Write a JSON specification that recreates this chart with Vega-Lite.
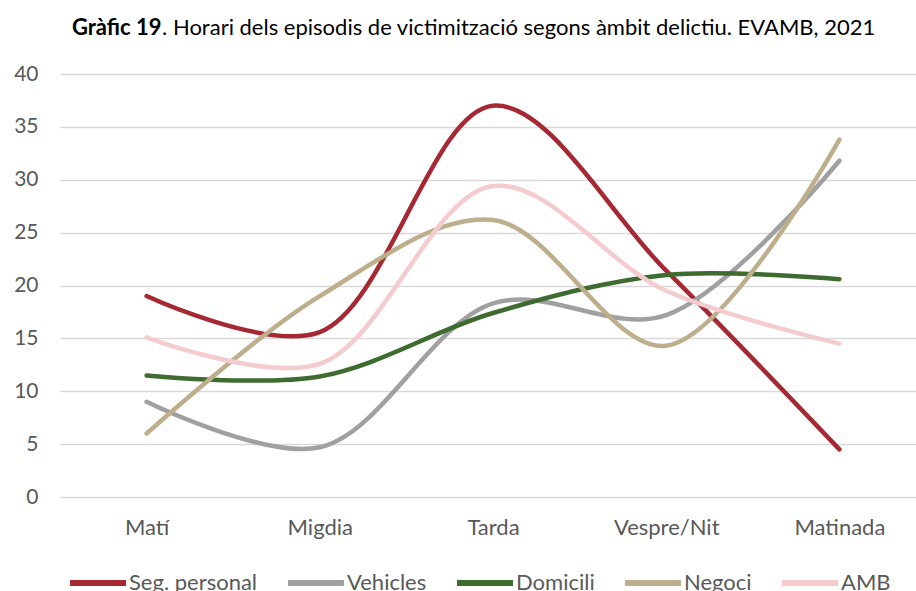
{
  "$schema": "https://vega.github.io/schema/vega-lite/v6.json",
  "width": 866,
  "height": 423,
  "padding": {"top": 17, "left": 13, "right": 0, "bottom": 0},
  "background": "white",
  "title": {
    "text": "Gràfic 19",
    "subtitle": "\u200b\u00a0\u00a0\u00a0\u00a0\u00a0\u00a0\u00a0\u00a0\u00a0\u00a0\u00a0\u00a0\u00a0\u00a0\u00a0\u00a0. Horari dels episodis de victimització segons àmbit delictiu. EVAMB, 2021",
    "font": "Lato",
    "fontSize": 22,
    "fontWeight": "bold",
    "color": "#000000",
    "subtitleFont": "Lato",
    "subtitleFontSize": 22,
    "subtitleFontWeight": "normal",
    "subtitleColor": "#000000",
    "subtitlePadding": -22,
    "offset": 23,
    "anchor": "start",
    "frame": "group",
    "dx": 12
  },
  "data": {
    "values": [
      {"franja": "Matí", "ambit": "Seg. personal", "valor": 19.0},
      {"franja": "Migdia", "ambit": "Seg. personal", "valor": 15.6},
      {"franja": "Tarda", "ambit": "Seg. personal", "valor": 37.0},
      {"franja": "Vespre/Nit", "ambit": "Seg. personal", "valor": 21.4},
      {"franja": "Matinada", "ambit": "Seg. personal", "valor": 4.5},
      {"franja": "Matí", "ambit": "Vehicles", "valor": 9.0},
      {"franja": "Migdia", "ambit": "Vehicles", "valor": 4.7},
      {"franja": "Tarda", "ambit": "Vehicles", "valor": 18.3},
      {"franja": "Vespre/Nit", "ambit": "Vehicles", "valor": 17.2},
      {"franja": "Matinada", "ambit": "Vehicles", "valor": 31.8},
      {"franja": "Matí", "ambit": "Domicili", "valor": 11.5},
      {"franja": "Migdia", "ambit": "Domicili", "valor": 11.4},
      {"franja": "Tarda", "ambit": "Domicili", "valor": 17.4},
      {"franja": "Vespre/Nit", "ambit": "Domicili", "valor": 21.0},
      {"franja": "Matinada", "ambit": "Domicili", "valor": 20.6},
      {"franja": "Matí", "ambit": "Negoci", "valor": 6.0},
      {"franja": "Migdia", "ambit": "Negoci", "valor": 19.0},
      {"franja": "Tarda", "ambit": "Negoci", "valor": 26.2},
      {"franja": "Vespre/Nit", "ambit": "Negoci", "valor": 14.3},
      {"franja": "Matinada", "ambit": "Negoci", "valor": 33.8},
      {"franja": "Matí", "ambit": "AMB", "valor": 15.1},
      {"franja": "Migdia", "ambit": "AMB", "valor": 12.6},
      {"franja": "Tarda", "ambit": "AMB", "valor": 29.4},
      {"franja": "Vespre/Nit", "ambit": "AMB", "valor": 19.5},
      {"franja": "Matinada", "ambit": "AMB", "valor": 14.5}
    ]
  },
  "mark": {"type": "line", "interpolate": "catmull-rom", "strokeWidth": 4.5, "strokeCap": "round"},
  "encoding": {
    "x": {
      "field": "franja",
      "type": "nominal",
      "sort": ["Matí", "Migdia", "Tarda", "Vespre/Nit", "Matinada"],
      "scale": {"type": "point", "padding": 0.5},
      "axis": {
        "title": null,
        "labelAngle": 0,
        "domain": false,
        "ticks": false,
        "grid": false,
        "labelFont": "Lato",
        "labelFontSize": 22,
        "labelColor": "#595959",
        "labelPadding": 20
      }
    },
    "y": {
      "field": "valor",
      "type": "quantitative",
      "scale": {"domain": [0, 40]},
      "axis": {
        "title": null,
        "values": [0, 5, 10, 15, 20, 25, 30, 35, 40],
        "domain": false,
        "ticks": false,
        "gridColor": "#D9D9D9",
        "gridWidth": 1.5,
        "labelFont": "Lato",
        "labelFontSize": 21,
        "labelColor": "#595959",
        "labelPadding": 22
      }
    },
    "color": {
      "field": "ambit",
      "type": "nominal",
      "sort": ["Seg. personal", "Vehicles", "Domicili", "Negoci", "AMB"],
      "scale": {
        "domain": ["Seg. personal", "Vehicles", "Domicili", "Negoci", "AMB"],
        "range": ["#A52833", "#A0A0A0", "#3D6B30", "#BDAE8C", "#F4CCD0"]
      },
      "legend": {
        "title": null,
        "orient": "none",
        "legendX": 7,
        "legendY": 478,
        "direction": "horizontal",
        "symbolType": "stroke",
        "symbolSize": 3136,
        "symbolStrokeWidth": 6,
        "labelFont": "Lato",
        "labelFontSize": 22,
        "labelColor": "#595959",
        "labelOffset": 0,
        "columnPadding": 18
      }
    }
  },
  "config": {"view": {"stroke": null}}
}
